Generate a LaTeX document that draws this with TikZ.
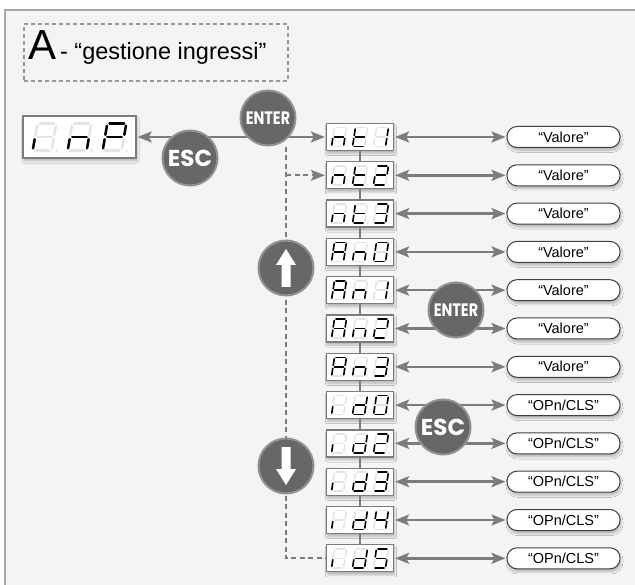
\documentclass[tikz,border=0pt]{standalone}
\usepackage{fontspec}
\setmainfont{Liberation Sans}
\newfontfamily\tastifont{Poppins}
\usetikzlibrary{arrows.meta, calc, shadows.blur}

\definecolor{grigio}{HTML}{7C7C7C}
\definecolor{sfondo}{HTML}{F4F4F4}
\definecolor{grigiotasto}{HTML}{676767}
\definecolor{bordotasto}{HTML}{929292}
\definecolor{grigiochiaro}{HTML}{E4E4E4}

% segmenti accesi di ogni carattere
\newcommand\defcifra[2]{\expandafter\def\csname cifra#1\endcsname{#2}}
\defcifra{n}{c,e,g}
\defcifra{t}{d,e,f,g}
\defcifra{i}{e}
\defcifra{d}{b,c,d,e,g}
\defcifra{A}{a,b,c,e,f,g}
\defcifra{P}{a,b,e,f,g}
\defcifra{0}{a,b,c,d,e,f}
\defcifra{1}{b,c}
\defcifra{2}{a,b,d,e,g}
\defcifra{3}{a,b,c,d,g}
\defcifra{4}{b,c,f,g}
\defcifra{5}{a,c,d,f,g}
\def\ocl{OPn/CLS}

% una cifra a sette segmenti
\newcommand{\cifra}[3]{%
  \begin{scope}[shift={#1}, #2]
    \coordinate (TL) at (-0.38,-1);
    \coordinate (TR) at (0.62,-1);
    \coordinate (ML) at (-0.5,0);
    \coordinate (MR) at (0.5,0);
    \coordinate (BL) at (-0.62,1);
    \coordinate (BR) at (0.38,1);
    \foreach \sg/\p/\q in {a/TL/TR, b/TR/MR, c/MR/BR, d/BL/BR, e/ML/BL, f/TL/ML, g/ML/MR}{
      \coordinate (\sg-1) at (\p);
      \coordinate (\sg-2) at (\q);
      \draw[segspento] (\p) -- (\q);
    }
    \draw[segspento, shorten >=0pt, shorten <=0pt] (0.64,1) -- (0.645,1);
    \edef\lista{\csname cifra#3\endcsname}
    \foreach \sg in \lista
      \draw[segacceso] (\sg-1) -- (\sg-2);
  \end{scope}}

\tikzset{
    % segmenti
    segacceso/.style={draw=black, line cap=round},
    segspento/.style={draw=grigiochiaro, line cap=round},
    piccola/.style={xscale=12, yscale=9.5, line width=1.6pt,
           shorten >=1.5pt, shorten <=1.5pt},
    grande/.style={xscale=19, yscale=13.5, line width=2.5pt,
           shorten >=2.2pt, shorten <=2.2pt},
    % display
    cifre/.style={
           rectangle,
           draw=grigio, line width=1.3pt,
           fill=white,
           minimum width=67, minimum height=27,
           blur shadow={shadow xshift=1pt, shadow yshift=-3pt,
                        shadow opacity=25, shadow blur steps=6}},
    % valori
    valore/.style={
           rectangle,
           rounded corners=10pt,
           draw=black!75, line width=1pt,
           fill=white,
           minimum width=113, minimum height=21,
           font=\fontsize{14.5}{14.5}\selectfont,
           blur shadow={shadow xshift=1pt, shadow yshift=-3pt,
                        shadow opacity=25, shadow blur steps=6}},
    % tasti
    tasto/.style={
           circle,
           fill=grigiotasto, draw=bordotasto, line width=2pt,
           minimum size=55, inner sep=0pt,
           text=white, font=\tastifont\bfseries},
    % frecce
    punta/.style={>={Stealth[length=14pt, width=11pt, inset=3pt]}},
    freccia/.style={
           <->, punta,
           draw=grigio, line width=2.5pt,
           shorten <=1pt, shorten >=1pt},
    linea/.style={draw=grigio, line width=2pt},
    tratto/.style={draw=grigio, line width=2pt, dash pattern=on 5pt off 3.5pt},
    titolo/.style={
           rectangle,
           draw=black!40, line width=1.5pt, dash pattern=on 4pt off 3pt,
           minimum width=264, minimum height=57},
}

\begin{document}
\begin{tikzpicture}[x=1pt, y=-1pt]
	\useasboundingbox (0,0) rectangle (635,585);
	\fill[white] (0,0) rectangle (635,585);
	\draw[draw=black!35, fill=sfondo, line width=2pt] (4.5,10) rectangle (660,600);
	%
	% titolo
	%
	\node[titolo] (riquadro) at (156,52.5) {};
	\node[anchor=base west, inner sep=0pt] (nome) at (28,60)
		{\fontsize{42}{42}\selectfont A\fontsize{23.5}{23.5}\selectfont\,- “gestione ingressi”};
	%
	% display iniziale
	%
	\node[cifre, minimum width=113, minimum height=42] (inp) at (79.5,137) {};
	\cifra{($(inp)+(-35,0)$)}{grande}{i}
	\cifra{($(inp)+(0,0)$)}{grande}{n}
	\cifra{($(inp)+(35,0)$)}{grande}{P}
	%
	% lista dei parametri
	%
	\foreach \nome/\ca/\cb/\cc/\val [count=\i, remember=\nome as \prec (initially nt1)] in
		{nt1/n/t/1/Valore, nt2/n/t/2/Valore, nt3/n/t/3/Valore,
		 An0/A/n/0/Valore, An1/A/n/1/Valore, An2/A/n/2/Valore, An3/A/n/3/Valore,
		 id0/i/d/0/\ocl, id2/i/d/2/\ocl, id3/i/d/3/\ocl, id4/i/d/4/\ocl, id5/i/d/5/\ocl}{
		\pgfmathsetmacro\yy{137+38.3*(\i-1)}
		\node[cifre] (\nome) at (360,\yy) {};
		\cifra{($(\nome)+(-21,0)$)}{piccola}{\ca}
		\cifra{($(\nome)+(0,0)$)}{piccola}{\cb}
		\cifra{($(\nome)+(21,0)$)}{piccola}{\cc}
		\node[valore] (\nome-val) at (563.5,\yy) {“\val”};
		\draw[freccia] (\nome) -- (\nome-val);
		\ifnum\i>1 \draw[linea] (\prec.south) -- (\nome.north); \fi
	}
	%
	% collegamenti
	%
	\draw[freccia] (inp) -- (nt1);
	\coordinate (scorre) at (286,147);
	\draw[tratto] (scorre) |- (id5);
	\draw[tratto, punta, ->, shorten >=1pt] (scorre |- nt2) -- (nt2);
	%
	% tasti
	%
	\node[tasto] (enter) at (268,118) {\scalebox{0.8}[1]{\fontsize{18}{18}\selectfont ENTER}};
	\node[tasto] (esc) at (190,158) {\fontsize{23}{23}\selectfont ESC};
	\node[tasto] (su) at (286,268) {};
	\node[tasto] (giu) at (286,466) {};
	\node[tasto] (enter2) at (456,310) {\scalebox{0.8}[1]{\fontsize{18}{18}\selectfont ENTER}};
	\node[tasto] (esc2) at (443,427) {\fontsize{23}{23}\selectfont ESC};
	\begin{scope}[shift={(su)}]
		\fill[white] (0,-19) -- (10,-3) -- (4.5,-3) -- (4.5,19) -- (-4.5,19) -- (-4.5,-3) -- (-10,-3) -- cycle;
	\end{scope}
	\begin{scope}[shift={(giu)}, yscale=-1]
		\fill[white] (0,-19) -- (10,-3) -- (4.5,-3) -- (4.5,19) -- (-4.5,19) -- (-4.5,-3) -- (-10,-3) -- cycle;
	\end{scope}
\end{tikzpicture}
\end{document}
